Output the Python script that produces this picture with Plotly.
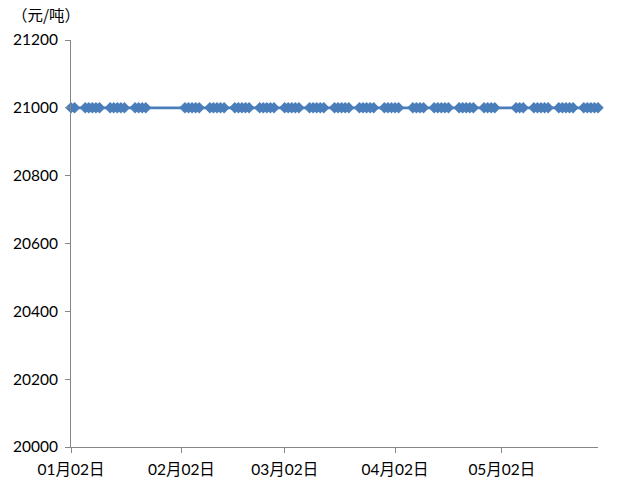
import plotly.graph_objects as go

# Trading days (2020) shown in the chart, by month
jan_days = [2, 3, 6, 7, 8, 9, 10, 13, 14, 15, 16, 17, 20, 21, 22, 23]
feb_days = [3, 4, 5, 6, 7, 10, 11, 12, 13, 14, 17, 18, 19, 20, 21, 24, 25, 26, 27, 28]
mar_days = [2, 3, 4, 5, 6, 9, 10, 11, 12, 13, 16, 17, 18, 19, 20, 23, 24, 25, 26, 27, 30, 31]
apr_days = [1, 2, 3, 7, 8, 9, 10, 13, 14, 15, 16, 17, 20, 21, 22, 23, 24, 27, 28, 29, 30]
may_days = [6, 7, 8, 11, 12, 13, 14, 15, 18, 19, 20, 21, 22, 25, 26, 27, 28, 29]

dates = []
for m, days in [(1, jan_days), (2, feb_days), (3, mar_days), (4, apr_days), (5, may_days)]:
    dates += [f"2020-{m:02d}-{d:02d}" for d in days]

price_level = 21000
prices = [price_level] * len(dates)

tick_dates = ["2020-01-02", "2020-02-02", "2020-03-02", "2020-04-02", "2020-05-02"]
tick_labels = ["01月02日", "02月02日", "03月02日", "04月02日", "05月02日"]
y_ticks = [20000, 20200, 20400, 20600, 20800, 21000, 21200]
unit_label = "（元/吨）"

FONT = "Lato, 'Noto Sans CJK SC', sans-serif"
CJK = "'Noto Sans CJK SC', sans-serif"
BLUE = "#4A7EBB"
AXIS = "#868686"

fig = go.Figure()
fig.add_trace(go.Scatter(
    x=dates, y=prices, mode="lines+markers",
    line=dict(color=BLUE, width=2.75),
    marker=dict(symbol="diamond", size=8.8, color=BLUE, line=dict(width=0)),
    cliponaxis=False,
    showlegend=False,
))

fig.update_layout(
    width=621, height=488,
    margin=dict(l=63, r=31, t=32, b=49),
    paper_bgcolor="white", plot_bgcolor="white",
    font=dict(family=FONT, size=15.5, color="black"),
    xaxis=dict(
        type="date", range=["2020-01-02", "2020-05-29"],
        tickvals=tick_dates, ticktext=tick_labels,
        showgrid=False, zeroline=False, automargin=False,
        showline=True, linecolor=AXIS, linewidth=1,
        ticks="outside", ticklen=5, tickcolor=AXIS,
        ticklabelstandoff=3,
        tickfont=dict(family=FONT, size=15.5, color="black"),
    ),
    yaxis=dict(
        range=[20000, 21200], tickvals=y_ticks,
        ticktext=[str(v) for v in y_ticks],
        showgrid=False, zeroline=False, automargin=False,
        showline=True, linecolor=AXIS, linewidth=1,
        ticks="outside", ticklen=5, tickcolor=AXIS,
        ticklabelstandoff=4,
        tickfont=dict(family=FONT, size=15.5, color="black"),
    ),
    annotations=[dict(
        text=unit_label, xref="paper", yref="paper",
        x=-0.116, y=1.063, xanchor="left", yanchor="middle",
        showarrow=False, font=dict(family=CJK, size=15.5, color="black"),
    )],
)

fig.write_html("out.html")
